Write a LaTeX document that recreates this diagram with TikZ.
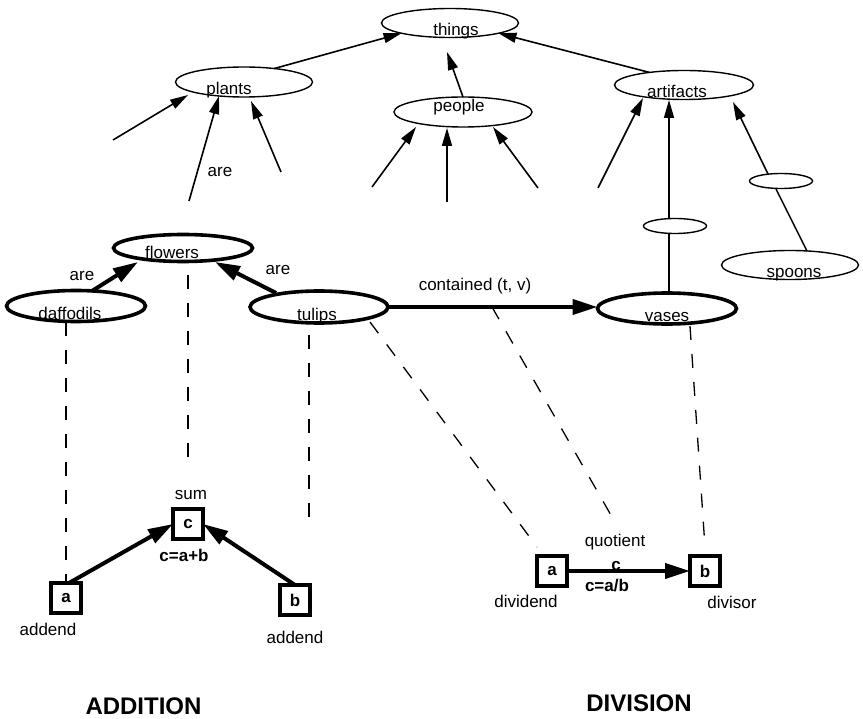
\documentclass[tikz,border=0pt]{standalone}
\usepackage{fontspec}
\setmainfont{Liberation Sans}
\usetikzlibrary{arrows.meta,shapes.geometric}
\begin{document}
\begin{tikzpicture}[x=1pt,y=-1pt,
  every node/.style={font=\fontsize{17}{20}\selectfont, inner sep=0pt, outer sep=0pt},
  ell/.style={ellipse, draw, line width=1.4pt},
  tell/.style={ellipse, draw, line width=3.6pt},
  lbl/.style={anchor=base},
  bl/.style={anchor=base, font=\fontsize{17}{20}\selectfont\bfseries},
  title/.style={anchor=base, font=\fontsize{24}{28}\selectfont\bfseries},
  nbox/.style={draw, line width=3.4pt, minimum size=30pt, font=\fontsize{17}{20}\selectfont\bfseries},
  thinarrow/.style={line width=1.6pt, -{Triangle[length=18pt,width=10pt]}},
  thickarrow/.style={line width=4pt, -{Triangle[length=25pt,width=15pt]}},
  plain/.style={line width=1.4pt},
  dashline/.style={line width=1.3pt, dash pattern=on 14pt off 14pt},
  ]
\useasboundingbox (0,0) rectangle (863,719);

% ---------- ellipses ----------
\node[ell, minimum width=137pt, minimum height=29pt] (things) at (450,23) {};
\node[ell, minimum width=137pt, minimum height=30pt] (plants) at (244,82) {};
\node[ell, minimum width=138pt, minimum height=30pt] (people) at (463,112) {};
\node[ell, minimum width=139pt, minimum height=29pt] (artifacts) at (684,85) {};
\node[ell, minimum width=63pt, minimum height=15pt] (s1) at (675,226) {};
\node[ell, minimum width=63pt, minimum height=15pt] (s2) at (781,181) {};
\node[ell, minimum width=137pt, minimum height=29pt] (spoons) at (790,265) {};
\node[tell, minimum width=139pt, minimum height=27pt] (flowers) at (183,248) {};
\node[tell, minimum width=139pt, minimum height=31pt] (daffodils) at (76,306) {};
\node[tell, minimum width=138pt, minimum height=32pt] (tulips) at (319,307) {};
\node[tell, minimum width=139pt, minimum height=31pt] (vases) at (667,308.5) {};

% ---------- ellipse texts ----------
\node[lbl] (thingsT) at (456,35.5) {things};
\node[lbl] (plantsT) at (229,95) {plants};
\node[lbl] (peopleT) at (459,112) {people};
\node[lbl] (artifactsT) at (677,98) {artifacts};
\node[lbl] (spoonsT) at (794,278) {spoons};
\node[lbl] (flowersT) at (172,259) {flowers};
\node[lbl] (daffodilsT) at (70,320) {daffodils};
\node[lbl] (tulipsT) at (317,320.5) {tulips};
\node[lbl] (vasesT) at (667,322) {vases};

% ---------- free coordinates ----------
\coordinate (thingsin) at (447,52);
\coordinate (pa1) at (113,140); \coordinate (pa1t) at (188,95);
\coordinate (pa2) at (189,201); \coordinate (pa2t) at (219,96);
\coordinate (pa3) at (281,172); \coordinate (pa3t) at (251,101);
\coordinate (pe1) at (372,187); \coordinate (pe1t) at (416,127);
\coordinate (pe2) at (447,202); \coordinate (pe2t) at (447,128);
\coordinate (pe3) at (538,188); \coordinate (pe3t) at (493,127);
\coordinate (ar1) at (598,188); \coordinate (ar1t) at (643,98);
\coordinate (s1top) at (669,218.5); \coordinate (ar2t) at (669,100);
\coordinate (s1bot) at (669,233.5); \coordinate (vtop) at (669,293);
\coordinate (s2top) at (768,174); \coordinate (ar3t) at (733,102);
\coordinate (s2bot) at (776,189); \coordinate (sptop) at (807,251);

% ---------- top hierarchy arrows ----------
\draw[thinarrow] (plants.24) -- (things.south west);
\draw[thinarrow] (artifacts.160) -- (things.south east);
\draw[thinarrow] (people.north) -- (thingsin);
\draw[thinarrow] (pa1) -- (pa1t);
\draw[thinarrow] (pa2) -- (pa2t);
\draw[thinarrow] (pa3) -- (pa3t);
\draw[thinarrow] (pe1) -- (pe1t);
\draw[thinarrow] (pe2) -- (pe2t);
\draw[thinarrow] (pe3) -- (pe3t);
\draw[thinarrow] (ar1) -- (ar1t);
\draw[thinarrow] (s1top) -- (ar2t);
\draw[thinarrow] (s2top) -- (ar3t);
\draw[plain] (s1bot) -- (vtop);
\draw[plain] (s2bot) -- (sptop);
\node[lbl] (are1) at (220,177) {are};

% ---------- flowers level ----------
\coordinate (dfs) at (92,291); \coordinate (dft) at (138,262);
\coordinate (tfs) at (276,293); \coordinate (tft) at (215,262);
\draw[thickarrow] (dfs) -- (dft);
\draw[thickarrow] (tfs) -- (tft);
\draw[thickarrow] (tulips.east) -- (vases.west |- tulips.east);
\node[lbl] (are2) at (82,281) {are};
\node[lbl] (are3) at (278,275) {are};
\node[lbl] (contained) at (475,291) {contained (t, v)};

% ---------- addition ----------
\node[nbox] (a1) at (66,598) {a};
\node[nbox] (c1) at (188,524) {c};
\node[nbox] (b1) at (295,600) {b};
\draw[thickarrow] (a1.north) ++(3,0) coordinate (a1s) (a1s) -- (c1.west);
\draw[thickarrow] (b1.north) -- (c1.east);
\node[lbl] (sum) at (191,500) {sum};
\node[bl] (cab) at (184,561) {c=a+b};
\node[lbl] (addL) at (48,635) {addend};
\node[lbl] (addR) at (295,643) {addend};
\node[title] (addition) at (143.5,714) {ADDITION};

\coordinate (dd1) at (66,322);
\coordinate (fd1) at (188,275); \coordinate (fd2) at (188,470);
\coordinate (td1) at (309,335); \coordinate (td2) at (309,530);
\draw[dashline] (dd1) -- (a1.north);
\draw[dashline] (fd1) -- (fd2);
\draw[dashline] (td1) -- (td2);

% ---------- division ----------
\node[nbox] (a2) at (552,571) {a};
\node[nbox] (b2) at (705,571) {b};
\draw[thickarrow] (a2.east) -- (b2.west);
\node[lbl] (quot) at (615,547) {quotient};
\node[bl] (cdiv) at (616,570) {c};
\node[bl] (cab2) at (607,591) {c=a/b};
\node[lbl] (dividend) at (526,607) {dividend};
\node[lbl] (divisor) at (732,608) {divisor};
\node[title] (division) at (639,711) {DIVISION};

\coordinate (q1) at (370,322); \coordinate (q1e) at (537,547);
\coordinate (q2) at (492,307); \coordinate (q2e) at (612,517);
\coordinate (q3) at (690,326); \coordinate (q3e) at (705,547);
\draw[dashline] (q1) -- (q1e);
\draw[dashline] (q2) -- (q2e);
\draw[dashline] (q3) -- (q3e);
\end{tikzpicture}
\end{document}
